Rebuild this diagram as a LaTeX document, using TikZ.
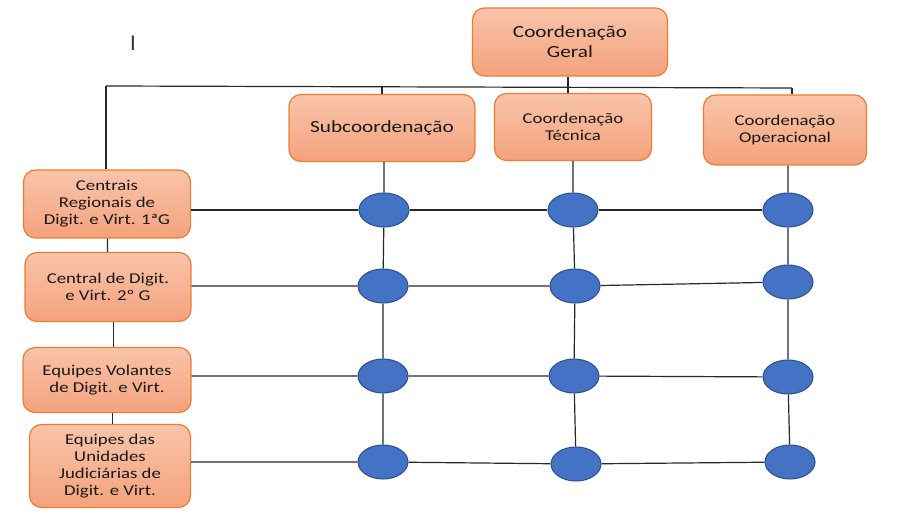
\documentclass[tikz,border=0pt]{standalone}
\usepackage{fontspec}
\usepackage{tikz}
\usetikzlibrary{positioning, shapes.geometric}
\newfontfamily\boxfont[FakeStretch=1.25]{Carlito}
\definecolor{boxtop}{RGB}{248,196,170}
\definecolor{boxbot}{RGB}{244,162,124}
\definecolor{boxline}{RGB}{237,125,49}
\definecolor{dotfill}{RGB}{68,114,196}
\definecolor{dotline}{RGB}{47,82,143}
\definecolor{wire}{RGB}{40,40,40}

\begin{document}
\begin{tikzpicture}[x=0.75pt,y=0.75pt,yscale=-1,xscale=1,
                    unit/.style={draw=boxline, line width=0.9pt, rounded corners=9pt,
                                 top color=boxtop, bottom color=boxbot,
                                 align=center, inner sep=2pt, text=black!90,
                                 font=\boxfont\fontsize{11.25}{12.75}\selectfont},
                    bigunit/.style={unit, font=\boxfont\fontsize{12.75}{15}\selectfont},
                    dot/.style={ellipse, draw=dotline, line width=0.8pt, fill=dotfill,
                                minimum width=37.5pt, minimum height=25.5pt},
                    wire/.style={draw=wire, line width=0.9pt}]
\useasboundingbox (0,0) rectangle (901,530);

% Top units
\node [bigunit, minimum width=146.25pt, minimum height=51pt] (geral) at (570,42) {Coordenação\\Geral};
\node [bigunit, minimum width=139.5pt, minimum height=50.25pt] (sub) at (382,128) {Subcoordenação};
\node [unit, minimum width=117.75pt, minimum height=50.25pt] (tec) at (573,127) {Coordenação\\Técnica};
\node [unit, minimum width=122.25pt, minimum height=52.5pt] (oper) at (785,130) {Coordenação\\Operacional};

% Left units
\node [unit, minimum width=125.25pt, minimum height=51pt] (reg) at (107,204) {Centrais\\Regionais de\\Digit. e Virt. 1ªG};
\node [unit, minimum width=124.5pt, minimum height=51.75pt] (cen) at (108,287) {Central de Digit.\\e Virt. 2º G};
\node [unit, minimum width=126pt, minimum height=48.75pt] (vol) at (107,380) {Equipes Volantes\\de Digit. e Virt.};
\node [unit, minimum width=120.75pt, minimum height=62.25pt] (uni) at (110,466) {Equipes das\\Unidades\\Judiciárias de\\Digit. e Virt.};

% Stray cursor mark
\node [font=\fontspec{Carlito}\fontsize{17}{17}\selectfont, text=black!80, inner sep=0pt] (cursor) at (133,43) {I};

% Crossings
\node [dot] (d11) at (384,210) {};
\node [dot] (d12) at (573,210) {};
\node [dot] (d13) at (788,210) {};
\node [dot] (d21) at (383,286) {};
\node [dot] (d22) at (575,286) {};
\node [dot] (d23) at (788,282) {};
\node [dot] (d31) at (383,376) {};
\node [dot] (d32) at (574,376) {};
\node [dot] (d33) at (788,377) {};
\node [dot] (d41) at (383,462) {};
\node [dot] (d42) at (576,464) {};
\node [dot] (d43) at (790,462) {};

% Top bus
\coordinate (busl) at (106,86);
\coordinate (busm) at (568,87);
\coordinate (busr) at (792,88);
\draw [wire] (busl) -- (busr);
\draw [wire] (geral.south -| busm) -- (busm) -- (busm |- tec.north);
\draw [wire] (sub.north |- busl) -- (sub.north);
\draw [wire] (busr) -- (busr |- oper.north);
\draw [wire] (busl) -- (busl |- reg.north);

% Left chain
\draw [wire] (reg) -- (cen);
\draw [wire] ([xshift=4pt]cen.south) -- ([xshift=4pt]cen.south |- vol.north);
\draw [wire] ([xshift=4pt]vol.south) -- ([xshift=4pt]vol.south |- uni.north);

% Rows
\draw [wire] (reg.east |- d11) -- (d11) -- (d12) -- (d13);
\draw [wire] (cen.east |- d21) -- (d21) -- (d22) -- (d23);
\draw [wire] (vol.east |- d31) -- (d31) -- (d32) -- (d33);
\draw [wire] (uni.east |- d41) -- (d41) -- (d42) -- (d43);

% Columns
\draw [wire] (sub.south -| d11) -- (d11) -- (d21) -- (d31) -- (d41);
\draw [wire] (tec.south -| d12) -- (d12) -- (d22) -- (d32) -- (d42);
\draw [wire] (oper.south -| d13) -- (d13) -- (d23) -- (d33) -- (d43);

\end{tikzpicture}
\end{document}
